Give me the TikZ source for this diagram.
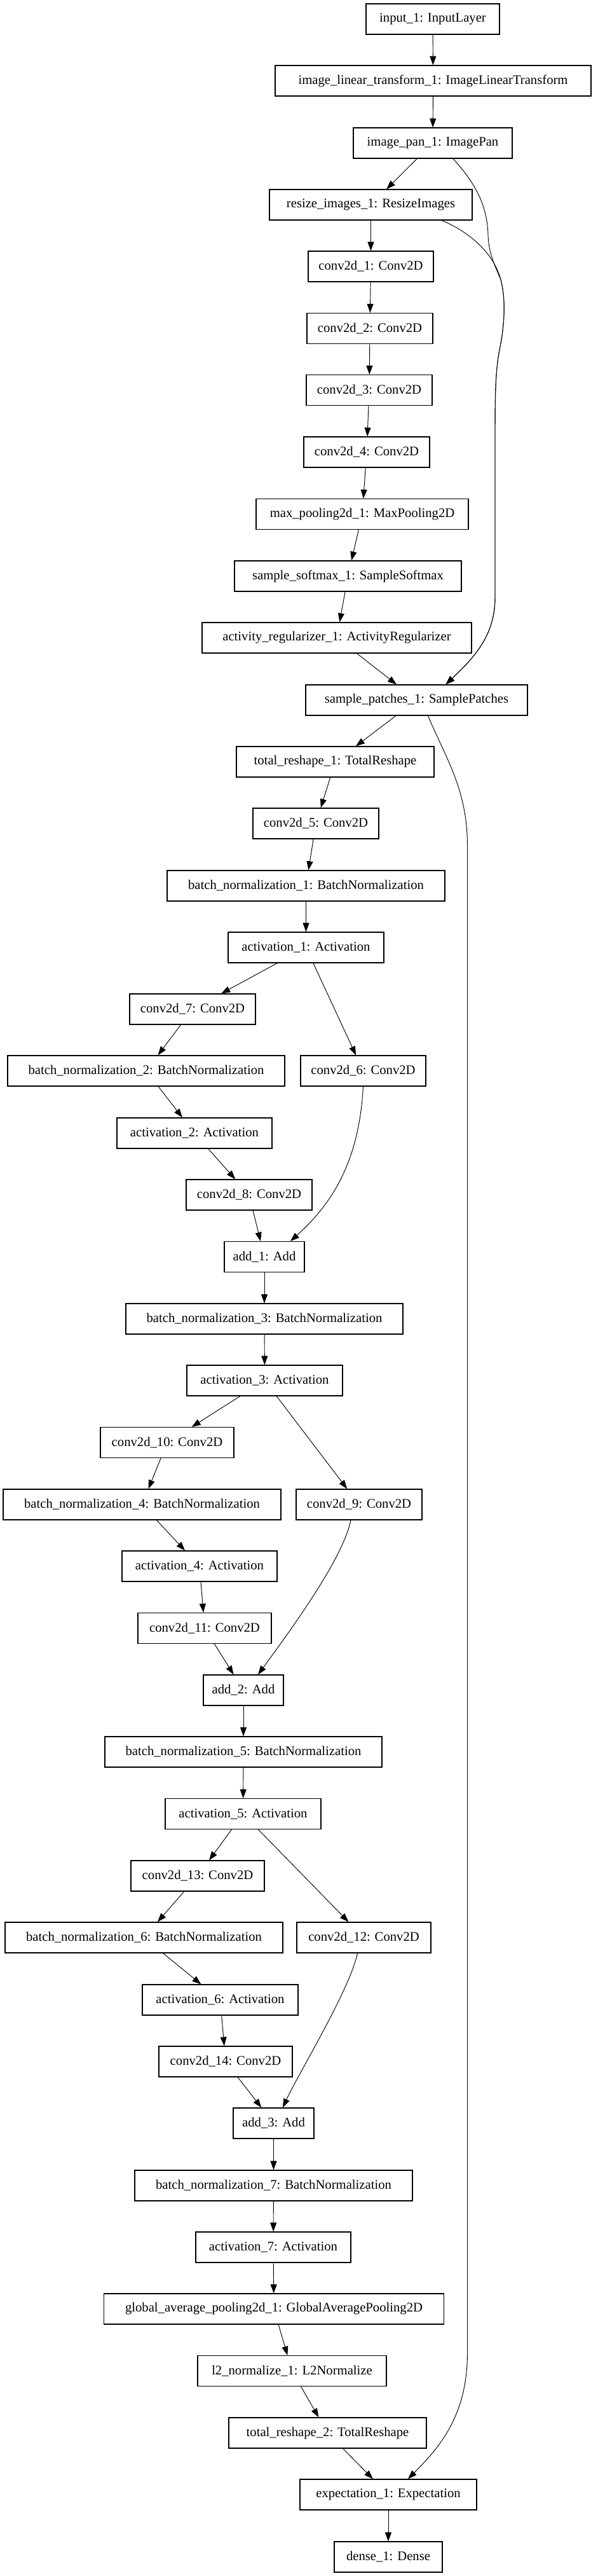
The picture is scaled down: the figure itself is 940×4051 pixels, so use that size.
\documentclass[tikz,border=0pt]{standalone}
\usepackage{fontspec}
\setmainfont{Liberation Serif}
\usetikzlibrary{arrows.meta,calc}
\begin{document}
\begin{tikzpicture}[x=0.75pt,y=-0.75pt,
  box/.style={draw, line width=0.9pt, minimum height=36pt, inner sep=0pt, font=\fontsize{15.5pt}{17pt}\selectfont},
  wd/.style={minimum width=#1*0.75pt},
  edge/.style={-{Triangle[length=10.5pt,width=7.5pt]}, line width=0.7pt}]
\path[use as bounding box, fill=white] (0,0) rectangle (940,4051);
\node[box,wd=210] (input) at (681,30) {input\_1: InputLayer};
\node[box,wd=497] (ilt) at (681.5,127) {image\_linear\_transform\_1: ImageLinearTransform};
\node[box,wd=250] (pan) at (681,225) {image\_pan\_1: ImagePan};
\node[box,wd=319] (resize) at (583.5,322) {resize\_images\_1: ResizeImages};
\node[box,wd=197] (c1) at (583.5,419) {conv2d\_1: Conv2D};
\node[box,wd=198] (c2) at (582,516.5) {conv2d\_2: Conv2D};
\node[box,wd=198] (c3) at (581,613.5) {conv2d\_3: Conv2D};
\node[box,wd=198] (c4) at (577,711) {conv2d\_4: Conv2D};
\node[box,wd=334] (mp) at (570,808.5) {max\_pooling2d\_1: MaxPooling2D};
\node[box,wd=357] (ss) at (547.5,906) {sample\_softmax\_1: SampleSoftmax};
\node[box,wd=424] (ar) at (530,1003) {activity\_regularizer\_1: ActivityRegularizer};
\node[box,wd=349] (sp) at (655.5,1101) {sample\_patches\_1: SamplePatches};
\node[box,wd=311] (tr1) at (527.5,1198) {total\_reshape\_1: TotalReshape};
\node[box,wd=198] (c5) at (497,1295) {conv2d\_5: Conv2D};
\node[box,wd=437] (bn1) at (481.5,1393) {batch\_normalization\_1: BatchNormalization};
\node[box,wd=245] (a1) at (481.5,1490) {activation\_1: Activation};
\node[box,wd=198] (c7) at (303,1587) {conv2d\_7: Conv2D};
\node[box,wd=436] (bn2) at (230,1684) {batch\_normalization\_2: BatchNormalization};
\node[box,wd=197] (c6) at (571.5,1684) {conv2d\_6: Conv2D};
\node[box,wd=244] (a2) at (306,1782) {activation\_2: Activation};
\node[box,wd=198] (c8) at (392,1879) {conv2d\_8: Conv2D};
\node[box,wd=126] (add1) at (416,1976.5) {add\_1: Add};
\node[box,wd=436] (bn3) at (416,2074) {batch\_normalization\_3: BatchNormalization};
\node[box,wd=245] (a3) at (416.5,2171) {activation\_3: Activation};
\node[box,wd=210] (c10) at (263,2268.5) {conv2d\_10: Conv2D};
\node[box,wd=437] (bn4) at (223.5,2366) {batch\_normalization\_4: BatchNormalization};
\node[box,wd=198] (c9) at (565,2366) {conv2d\_9: Conv2D};
\node[box,wd=244] (a4) at (314,2463) {activation\_4: Activation};
\node[box,wd=210] (c11) at (322,2560.5) {conv2d\_11: Conv2D};
\node[box,wd=126] (add2) at (383,2658) {add\_2: Add};
\node[box,wd=436] (bn5) at (383,2755) {batch\_normalization\_5: BatchNormalization};
\node[box,wd=245] (a5) at (382.5,2852.5) {activation\_5: Activation};
\node[box,wd=210] (c13) at (311,2950) {conv2d\_13: Conv2D};
\node[box,wd=437] (bn6) at (226.5,3047) {batch\_normalization\_6: BatchNormalization};
\node[box,wd=211] (c12) at (572.5,3047) {conv2d\_12: Conv2D};
\node[box,wd=245] (a6) at (346.5,3145) {activation\_6: Activation};
\node[box,wd=210] (c14) at (355,3242) {conv2d\_14: Conv2D};
\node[box,wd=127] (add3) at (430.5,3339) {add\_3: Add};
\node[box,wd=437] (bn7) at (430.5,3437) {batch\_normalization\_7: BatchNormalization};
\node[box,wd=244] (a7) at (430,3534) {activation\_7: Activation};
\node[box,wd=535] (gap) at (431,3631) {global\_average\_pooling2d\_1: GlobalAveragePooling2D};
\node[box,wd=297] (l2) at (459.5,3728.5) {l2\_normalize\_1: L2Normalize};
\node[box,wd=311] (tr2) at (515.5,3826) {total\_reshape\_2: TotalReshape};
\node[box,wd=278] (exp) at (611,3923) {expectation\_1: Expectation};
\node[box,wd=170] (dense) at (611,4021) {dense\_1: Dense};
% straight edges
\foreach \a/\b in {input/ilt, ilt/pan, pan/resize, resize/c1, c1/c2, c2/c3, c3/c4, c4/mp, mp/ss, ss/ar, ar/sp,
  sp/tr1, tr1/c5, c5/bn1, bn1/a1, a1/c7, a1/c6, c7/bn2, bn2/a2, a2/c8, c8/add1,
  add1/bn3, bn3/a3, a3/c10, a3/c9, c10/bn4, bn4/a4, a4/c11, c11/add2,
  add2/bn5, bn5/a5, a5/c13, a5/c12, c13/bn6, bn6/a6, a6/c14, c14/add3,
  add3/bn7, bn7/a7, a7/gap, gap/l2, l2/tr2, tr2/exp, exp/dense}
  \draw[edge] (\a) -- (\b);
% curved edges
\draw[edge] ($(pan.south)+(32,0)$) .. controls (745,285) and (767,320) .. (768,370)
  .. controls (769,400) and (780,420) .. (788,440)
  .. controls (796,470) and (794,510) .. (787,545)
  .. controls (781,575) and (779,600) .. (779,680) -- (779,940)
  .. controls (779,1000) and (745,1035) .. ($(sp.north)+(46,0)$);
\draw[edge] ($(resize.south)+(111.5,0)$) .. controls (740,365) and (778,400) .. (788,440)
  .. controls (796,470) and (794,510) .. (787,545)
  .. controls (781,575) and (779,600) .. (779,680) -- (779,940)
  .. controls (779,1000) and (745,1035) .. ($(sp.north)+(46,0)$);
\draw[edge] ($(sp.south)+(18,0)$) .. controls (700,1190) and (735.5,1240) .. (735.5,1330) -- (735.5,3700)
  .. controls (735.5,3800) and (690,3850) .. ($(exp.north)+(31,0)$);
\draw[edge] (c6.south) .. controls (565,1830) and (520,1895) .. ($(add1.north)+(41,0)$);
\draw[edge] ($(c9.south)+(-13,0)$) .. controls (540,2450) and (460,2560) .. ($(add2.north)+(23,0)$);
\draw[edge] ($(c12.south)+(-10,0)$) .. controls (550,3130) and (470,3260) .. ($(add3.north)+(14.5,0)$);
\end{tikzpicture}
\end{document}
